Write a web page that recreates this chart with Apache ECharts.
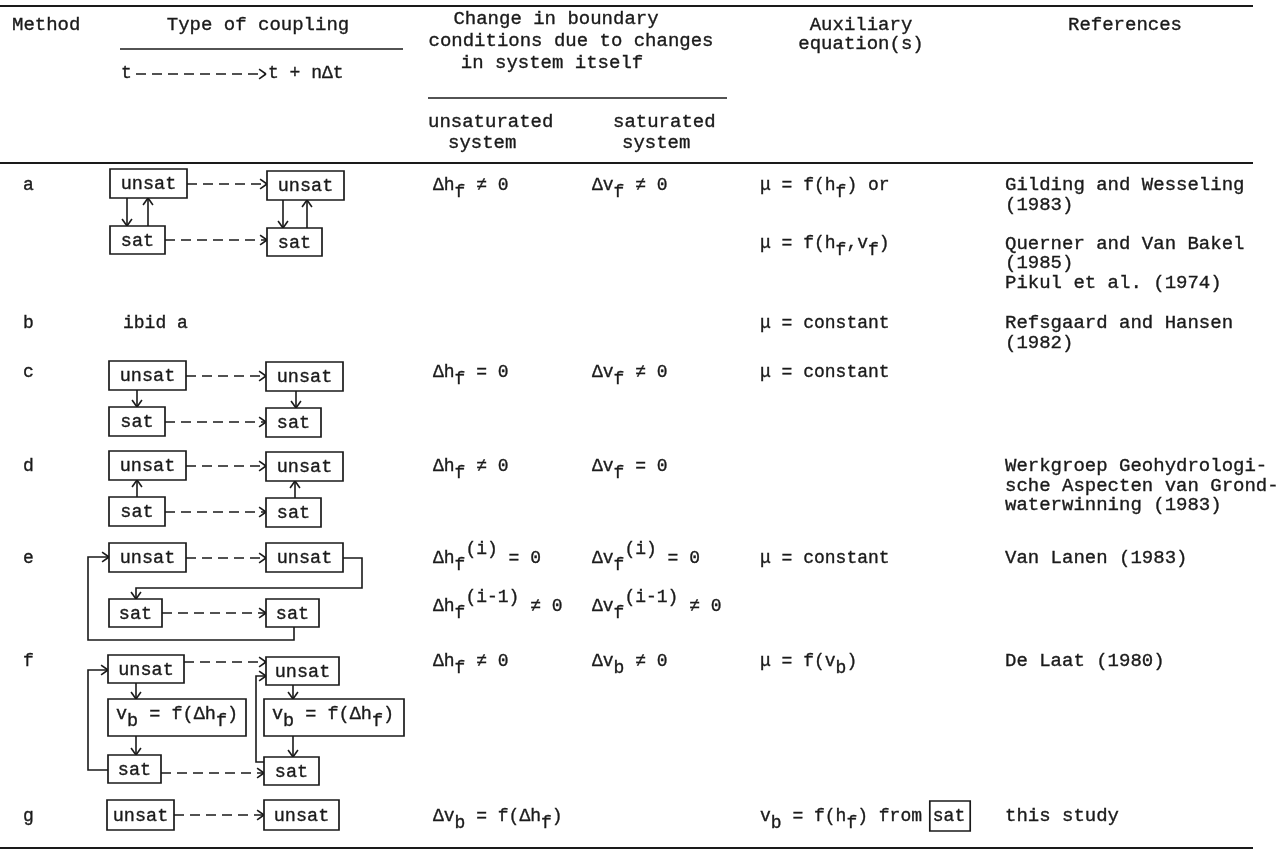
<!DOCTYPE html>
<html><head><meta charset="utf-8">
<script src="https://cdn.jsdelivr.net/npm/echarts@6/dist/echarts.min.js"></script>
<style>html,body{margin:0;padding:0;background:#fff}#c{width:1287px;height:855px}</style>
</head><body><div id="c"></div>
<script>
// ================= DATA (text content of the table) =================
const methods = ['a', 'b', 'c', 'd', 'e', 'f', 'g'];
// coupling scheme drawn in the "Type of coupling" column, one per method
const couplingTypes = ['twoWay', 'ibid', 'unsatToSat', 'satToUnsat', 'iterative', 'vbLink', 'unsatOnly'];
const ibidText = 'ibid a';
const boxUnsat = 'unsat';
const boxSat = 'sat';
const boxVb = 'v_{b} = f(Δh_{f})';

const headerMethod = 'Method';
const headerCoupling = 'Type of coupling';
const headerTime = ['t', 't + nΔt'];
const headerChange = ['Change in boundary', 'conditions due to changes', 'in system itself'];
const headerUnsat = ['unsaturated', 'system'];
const headerSat = ['saturated', 'system'];
const headerAux = ['Auxiliary', 'equation(s)'];
const headerRefs = ['References'];

// '' entries are empty lines inside a cell; _{..} subscript, ^{..} superscript, [..] boxed
const unsatChange = [
  ['Δh_{f} ≠ 0'], [], ['Δh_{f} = 0'], ['Δh_{f} ≠ 0'],
  ['Δh_{f}^{(i)} = 0', '', 'Δh_{f}^{(i-1)} ≠ 0'],
  ['Δh_{f} ≠ 0'], ['Δv_{b} = f(Δh_{f})']
];
const satChange = [
  ['Δv_{f} ≠ 0'], [], ['Δv_{f} ≠ 0'], ['Δv_{f} = 0'],
  ['Δv_{f}^{(i)} = 0', '', 'Δv_{f}^{(i-1)} ≠ 0'],
  ['Δv_{b} ≠ 0'], []
];
const auxEquations = [
  ['μ = f(h_{f}) or', '', 'μ = f(h_{f},v_{f})'],
  ['μ = constant'], ['μ = constant'], [], ['μ = constant'],
  ['μ = f(v_{b})'], ['v_{b} = f(h_{f}) from [sat]']
];
const references = [
  ['Gilding and Wesseling', '(1983)', '', 'Querner and Van Bakel', '(1985)', 'Pikul et al. (1974)'],
  ['Refsgaard and Hansen', '(1982)'], [],
  ['Werkgroep Geohydrologi-', 'sche Aspecten van Grond-', 'waterwinning (1983)'],
  ['Van Lanen (1983)'], ['De Laat (1980)'], ['this study']
];

// ================= LAYOUT (positions and styles) =================
const INK = '#1a1a1a';
const FAM = '"Liberation Mono","DejaVu Sans Mono",monospace';
const FS_TXT = 19, FS_EQ = 18, FS_BOX = 18.5;
const cw = fs => fs * 0.6;
const TABLE_R = 1253;
const RULES = { top: 6, head: 163, bottom: 848 };
const ROW_Y = [185, 323, 372, 466, 558, 661, 816];
const COL_X = { method: 23, coupling: 123, unsat: 433, sat: 592, aux: 760, ref: 1005 };
const PITCH = { unsat: 24, sat: 24, aux: 29, ref: 19.5 };
const DIAG_TOP = [169, null, 361, 451, 543, 655, 800];
const LX = 109, RX = 266, BH = 29, W_UNSAT = 77, W_SAT = 55;

const G = [];
function addText(x, y, s, fs, align) {
  G.push({ type: 'text', x: x, y: y, silent: true, z: 10,
    style: { text: s, font: fs + 'px ' + FAM, fill: INK, stroke: INK, lineWidth: 0.35,
      align: align || 'left', verticalAlign: 'middle' } });
}
function addLine(x1, y1, x2, y2, lw, dash) {
  G.push({ type: 'line', silent: true, z: 5, shape: { x1, y1, x2, y2 },
    style: { stroke: INK, lineWidth: lw || 1.5, lineDash: dash || null } });
}
function addRect(x, y, w, h) {
  G.push({ type: 'rect', silent: true, z: 6, shape: { x, y, width: w, height: h },
    style: { fill: '#fff', stroke: INK, lineWidth: 1.7 } });
}
function parseFormula(str) {
  const segs = []; let i = 0, buf = '';
  const flush = () => { if (buf) { segs.push({ t: buf, k: 'n' }); buf = ''; } };
  while (i < str.length) {
    const ch = str[i];
    if ((ch === '_' || ch === '^') && str[i + 1] === '{') {
      flush(); const j = str.indexOf('}', i + 2);
      segs.push({ t: str.slice(i + 2, j), k: ch === '_' ? 'sub' : 'sup' }); i = j + 1;
    } else if (ch === '[') {
      flush(); const j = str.indexOf(']', i + 1);
      segs.push({ t: str.slice(i + 1, j), k: 'box' }); i = j + 1;
    } else { buf += ch; i++; }
  }
  flush();
  return segs;
}
function addFormula(x, y, str, fs) {
  const w = cw(fs); let cx = x;
  parseFormula(str).forEach(s => {
    const dy = s.k === 'sub' ? 7 : s.k === 'sup' ? -9 : 0;
    const n = Array.from(s.t).length;
    if (s.k === 'box') addRect(cx - 3, y - 15, n * w + 8, 30);
    addText(cx, y + dy, s.t, fs);
    cx += n * w;
  });
}
function arrowHead(x, y, ang) {
  const L = 8.5, a = 0.62;
  addLine(x, y, x - L * Math.cos(ang - a), y - L * Math.sin(ang - a), 1.6);
  addLine(x, y, x - L * Math.cos(ang + a), y - L * Math.sin(ang + a), 1.6);
}
function addArrow(pts, dashed) {
  G.push({ type: 'polyline', silent: true, z: 5, shape: { points: pts },
    style: { stroke: INK, fill: null, lineWidth: 1.6, lineDash: dashed ? [10, 6] : null } });
  const p = pts[pts.length - 1], q = pts[pts.length - 2];
  arrowHead(p[0], p[1], Math.atan2(p[1] - q[1], p[0] - q[0]));
}
function addBox(x, y, w, h, label) {
  addRect(x, y, w, h);
  addText(x + w / 2, y + h / 2 + 1, label, FS_BOX, 'center');
}

// ---------- header ----------
[RULES.top, RULES.head, RULES.bottom].forEach(y => addLine(0, y, TABLE_R, y, 1.8));
addText(12, 25, headerMethod, FS_TXT);
addText(258, 25, headerCoupling, FS_TXT, 'center');
addLine(120, 49, 403, 49, 1.6);
addText(121, 73, headerTime[0], FS_EQ);
addArrow([[136, 74], [266, 74]], true);
addText(268, 73, headerTime[1], FS_EQ);
headerChange.forEach((s, i) => addText([556, 571, 552][i], 19 + i * 22, s, FS_TXT, 'center'));
addLine(428, 98, 727, 98, 1.6);
addText(428, 122, headerUnsat[0], FS_TXT); addText(448, 143, headerUnsat[1], FS_TXT);
addText(613, 122, headerSat[0], FS_TXT); addText(622, 143, headerSat[1], FS_TXT);
headerAux.forEach((s, i) => addText(861, 25 + i * 19, s, FS_TXT, 'center'));
addText(1125, 25, headerRefs[0], FS_TXT, 'center');

// ---------- body text ----------
methods.forEach((m, r) => {
  const y0 = ROW_Y[r];
  addText(COL_X.method, y0, m, FS_EQ);
  unsatChange[r].forEach((s, k) => { if (s) addFormula(COL_X.unsat, y0 + k * PITCH.unsat, s, FS_EQ); });
  satChange[r].forEach((s, k) => { if (s) addFormula(COL_X.sat, y0 + k * PITCH.sat, s, FS_EQ); });
  auxEquations[r].forEach((s, k) => { if (s) addFormula(COL_X.aux, y0 + k * PITCH.aux, s, FS_EQ); });
  references[r].forEach((s, k) => { if (s) addText(COL_X.ref, y0 + k * PITCH.ref, s, FS_TXT); });
});

// ---------- coupling diagrams ----------
function dashed(y, x1, x2) { addArrow([[x1, y], [x2, y]], true); }
couplingTypes.forEach((type, r) => {
  const t = DIAG_TOP[r];
  if (type === 'ibid') { addText(COL_X.coupling, ROW_Y[r], ibidText, FS_EQ); return; }
  if (type === 'twoWay') {
    const b = t + 57;
    addBox(LX + 1, t, W_UNSAT, BH, boxUnsat); addBox(RX + 1, t + 2, W_UNSAT, BH, boxUnsat);
    addBox(LX + 1, b, W_SAT, 28, boxSat); addBox(RX + 1, b + 2, W_SAT, 28, boxSat);
    dashed(t + 15, LX + 78, RX + 1); dashed(b + 14, LX + 56, RX + 1);
    addArrow([[LX + 18, t + BH], [LX + 18, b]]); addArrow([[LX + 39, b], [LX + 39, t + BH]]);
    addArrow([[RX + 17, t + BH + 2], [RX + 17, b + 2]]); addArrow([[RX + 41, b + 2], [RX + 41, t + BH + 2]]);
  } else if (type === 'unsatToSat' || type === 'satToUnsat') {
    const b = t + 46;
    addBox(LX, t, W_UNSAT, BH, boxUnsat); addBox(RX, t + 1, W_UNSAT, BH, boxUnsat);
    addBox(LX, b, 56, BH, boxSat); addBox(RX, b + 1, 55, BH, boxSat);
    dashed(t + 15, LX + W_UNSAT, RX); dashed(b + 15, LX + 56, RX);
    if (type === 'unsatToSat') {
      addArrow([[LX + 28, t + BH], [LX + 28, b]]); addArrow([[RX + 30, t + BH + 1], [RX + 30, b + 1]]);
    } else {
      addArrow([[LX + 28, b], [LX + 28, t + BH]]); addArrow([[RX + 29, b + 1], [RX + 29, t + BH + 1]]);
    }
  } else if (type === 'iterative') {
    const b = t + 56;
    addBox(LX, t, W_UNSAT, BH, boxUnsat); addBox(RX, t, W_UNSAT, BH, boxUnsat);
    addBox(LX, b, 53, 28, boxSat); addBox(RX, b, 53, 28, boxSat);
    dashed(t + 15, LX + W_UNSAT, RX); dashed(b + 14, LX + 53, RX);
    addArrow([[RX + W_UNSAT, t + 15], [RX + 96, t + 15], [RX + 96, t + 45], [LX + 27, t + 45], [LX + 27, b]]);
    addArrow([[RX + 28, b + 28], [RX + 28, t + 97], [LX - 21, t + 97], [LX - 21, t + 14], [LX, t + 14]]);
  } else if (type === 'vbLink') {
    const v = t + 44, b = t + 100;
    addBox(LX - 1, t, 76, 28, boxUnsat); addBox(RX, t + 2, 73, 28, boxUnsat);
    addRect(LX - 1, v, 138, 37); addRect(RX - 2, v, 140, 37);
    addFormula(LX + 7, v + 15, boxVb, FS_BOX); addFormula(RX + 6, v + 15, boxVb, FS_BOX);
    addBox(LX - 1, b, 53, 28, boxSat); addBox(RX - 2, b + 2, 55, 28, boxSat);
    dashed(t + 7, LX + 75, RX); dashed(b + 18, LX + 52, RX - 2);
    addArrow([[LX + 27, t + 28], [LX + 27, v]]); addArrow([[LX + 27, v + 37], [LX + 27, b]]);
    addArrow([[RX + 27, t + 30], [RX + 27, v]]); addArrow([[RX + 27, v + 37], [RX + 27, b + 2]]);
    addArrow([[LX - 1, b + 15], [LX - 21, b + 15], [LX - 21, t + 15], [LX - 1, t + 15]]);
    addArrow([[RX - 2, b + 7], [RX - 10, b + 7], [RX - 10, t + 21], [RX, t + 21]]);
  } else if (type === 'unsatOnly') {
    addBox(LX - 2, t, 67, 30, boxUnsat); addBox(RX - 2, t, 75, 30, boxUnsat);
    dashed(t + 15, LX + 65, RX - 2);
  }
});

const chart = echarts.init(document.getElementById('c'), null, { renderer: 'canvas' });
chart.setOption({ backgroundColor: '#ffffff', animation: false, graphic: { elements: G } });
</script>
</body></html>
